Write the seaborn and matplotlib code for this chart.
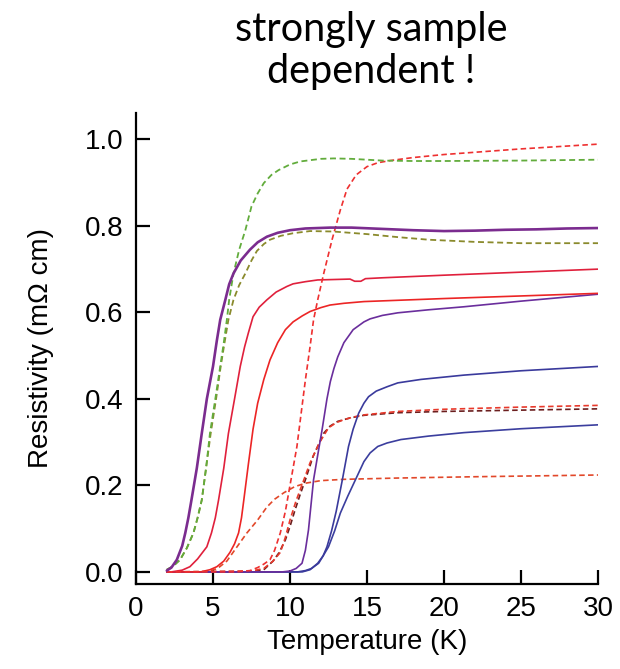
import matplotlib
matplotlib.use("Agg")
import matplotlib.pyplot as plt
import seaborn as sns
import pandas as pd

# ---------------- data ----------------
# Purple solid (noisy) curve
p1_T = [2.0, 2.3, 2.65, 3.0, 3.2, 3.4, 3.6, 3.95, 4.27, 4.6, 5.0, 5.25, 5.47, 5.8, 6.05, 6.33, 6.8, 7.4, 7.9, 8.5, 9.2, 10.0, 11.0, 12.6, 14.0, 16.0, 18.0, 20.0, 22.0, 24.0, 26.0, 28.0, 30.0]
p1_R = [0.003, 0.01, 0.028, 0.06, 0.09, 0.125, 0.166, 0.24, 0.32, 0.40, 0.475, 0.535, 0.583, 0.629, 0.665, 0.69, 0.72, 0.745, 0.762, 0.775, 0.784, 0.79, 0.794, 0.796, 0.796, 0.793, 0.790, 0.788, 0.789, 0.791, 0.792, 0.794, 0.795]
# Light green dashed
g_T = [2.0, 2.4, 2.86, 3.3, 3.73, 4.0, 4.27, 4.55, 4.8, 5.15, 5.47, 5.7, 5.9, 6.05, 6.33, 6.7, 7.1, 7.5, 7.9, 8.3, 8.8, 9.26, 10.0, 10.67, 12.0, 12.84, 14.0, 16.0, 18.0, 20.0, 25.0, 30.0]
g_R = [0.005, 0.013, 0.028, 0.055, 0.09, 0.125, 0.166, 0.24, 0.32, 0.40, 0.475, 0.53, 0.583, 0.629, 0.69, 0.745, 0.79, 0.845, 0.875, 0.899, 0.918, 0.929, 0.942, 0.949, 0.955, 0.956, 0.955, 0.951, 0.950, 0.950, 0.951, 0.953]
# Olive dashed
o_T = [2.0, 2.4, 2.86, 3.3, 3.73, 4.0, 4.27, 4.55, 4.85, 5.2, 5.5, 5.75, 6.0, 6.33, 6.7, 7.1, 7.5, 7.85, 8.3, 8.7, 9.4, 10.2, 11.3, 12.8, 15.0, 17.0, 19.0, 22.0, 25.0, 30.0]
o_R = [0.005, 0.013, 0.028, 0.055, 0.09, 0.125, 0.166, 0.24, 0.32, 0.40, 0.475, 0.53, 0.583, 0.629, 0.663, 0.69, 0.72, 0.742, 0.758, 0.768, 0.777, 0.783, 0.788, 0.787, 0.781, 0.774, 0.768, 0.763, 0.760, 0.760]
# Tall red dashed
rd1_T = [2.0, 6.5, 7.4, 7.9, 8.3, 8.7, 9.0, 9.37, 9.7, 10.0, 10.45, 10.7, 11.0, 11.3, 11.53, 11.8, 12.19, 12.73, 13.27, 13.7, 14.3, 15.0, 15.7, 16.5, 18.0, 20.0, 25.0, 30.0]
rd1_R = [0.0, 0.0, 0.003, 0.01, 0.018, 0.028, 0.05, 0.09, 0.14, 0.2, 0.29, 0.36, 0.444, 0.52, 0.583, 0.629, 0.69, 0.768, 0.837, 0.885, 0.918, 0.937, 0.946, 0.951, 0.958, 0.965, 0.978, 0.989]
# Red solid 1
rs1_T = [2.3, 3.0, 3.5, 4.0, 4.6, 4.9, 5.15, 5.36, 5.7, 6.0, 6.4, 6.77, 7.05, 7.3, 7.6, 8.0, 8.5, 9.1, 9.8, 10.2, 11.0, 11.8, 13.9, 14.2, 14.6, 14.9, 16.0, 20.0, 25.0, 30.0]
rs1_R = [0.0, 0.004, 0.012, 0.03, 0.058, 0.09, 0.125, 0.166, 0.24, 0.32, 0.40, 0.475, 0.52, 0.553, 0.59, 0.612, 0.629, 0.647, 0.66, 0.666, 0.671, 0.675, 0.677, 0.672, 0.672, 0.678, 0.680, 0.686, 0.693, 0.700]
# Red solid 2
rs2_T = [2.0, 4.2, 4.8, 5.25, 5.7, 6.1, 6.4, 6.66, 6.85, 7.0, 7.3, 7.6, 7.9, 8.3, 8.7, 9.2, 9.7, 10.2, 10.8, 11.3, 12.0, 12.6, 13.5, 14.8, 20.0, 25.0, 30.0]
rs2_R = [0.0, 0.0, 0.005, 0.012, 0.025, 0.045, 0.065, 0.09, 0.125, 0.166, 0.25, 0.33, 0.39, 0.445, 0.49, 0.53, 0.56, 0.578, 0.592, 0.602, 0.611, 0.617, 0.621, 0.625, 0.632, 0.638, 0.644]
# Purple solid 2
p2_T = [2.0, 9.5, 10.0, 10.4, 10.78, 11.0, 11.2, 11.35, 11.53, 11.8, 12.08, 12.4, 12.62, 12.85, 13.1, 13.5, 14.1, 14.8, 15.2, 16.0, 17.0, 19.0, 21.3, 25.0, 30.0]
p2_R = [0.0, 0.0, 0.002, 0.008, 0.02, 0.05, 0.097, 0.15, 0.213, 0.27, 0.328, 0.40, 0.44, 0.47, 0.497, 0.53, 0.56, 0.578, 0.585, 0.593, 0.599, 0.606, 0.613, 0.626, 0.642]
# Blue solid 1
b1_T = [2.0, 10.5, 11.0, 11.4, 11.86, 12.15, 12.4, 12.7, 13.0, 13.4, 13.8, 14.1, 14.46, 14.8, 15.1, 15.6, 16.3, 17.0, 18.5, 21.3, 25.0, 30.0]
b1_R = [0.0, 0.0, 0.003, 0.008, 0.02, 0.037, 0.058, 0.095, 0.14, 0.213, 0.29, 0.33, 0.367, 0.39, 0.405, 0.418, 0.428, 0.437, 0.445, 0.455, 0.465, 0.475]
# Blue solid 2
b2_T = [2.0, 10.8, 11.3, 11.8, 12.15, 12.5, 12.9, 13.27, 13.75, 14.25, 14.8, 15.2, 15.7, 16.3, 17.2, 19.0, 21.3, 25.0, 30.0]
b2_R = [0.0, 0.0, 0.005, 0.02, 0.037, 0.058, 0.095, 0.136, 0.175, 0.213, 0.255, 0.275, 0.29, 0.298, 0.306, 0.314, 0.322, 0.331, 0.340]
# Red dashed (plateau ~0.385)
rd2_T = [2.0, 7.5, 8.3, 8.9, 9.37, 9.7, 10.0, 10.4, 10.8, 11.3, 11.9, 12.5, 13.0, 13.5, 14.1, 14.8, 17.0, 20.0, 25.0, 30.0]
rd2_R = [0.0, 0.002, 0.008, 0.025, 0.045, 0.08, 0.12, 0.165, 0.203, 0.252, 0.298, 0.333, 0.345, 0.352, 0.358, 0.363, 0.371, 0.376, 0.381, 0.385]
# Dark brown dashed (plateau ~0.377)
bd_T = [2.0, 7.6, 8.3, 8.9, 9.3, 9.7, 10.0, 10.3, 10.65, 11.0, 11.5, 12.2, 12.6, 13.1, 13.9, 14.8, 17.0, 20.0, 25.0, 30.0]
bd_R = [0.0, 0.001, 0.005, 0.025, 0.045, 0.074, 0.105, 0.14, 0.178, 0.213, 0.267, 0.321, 0.337, 0.348, 0.356, 0.362, 0.368, 0.371, 0.374, 0.377]
# Orange-red dashed (low plateau ~0.22)
rd3_T = [2.0, 4.6, 5.3, 5.9, 6.5, 7.2, 7.9, 8.5, 9.0, 9.6, 10.3, 11.0, 12.0, 13.5, 17.0, 22.0, 30.0]
rd3_R = [0.0, 0.0, 0.008, 0.025, 0.055, 0.09, 0.12, 0.15, 0.168, 0.183, 0.197, 0.205, 0.211, 0.214, 0.217, 0.220, 0.224]

x_ticks = [0, 5, 10, 15, 20, 25, 30]
y_ticks = [0.0, 0.2, 0.4, 0.6, 0.8, 1.0]
y_tick_labels = ["0.0", "0.2", "0.4", "0.6", "0.8", "1.0"]

# ---------------- figure ----------------
sns.set_style("ticks")
plt.rcParams["font.family"] = ["Liberation Sans", "DejaVu Sans"]
plt.rcParams["text.color"] = "black"
plt.rcParams["axes.labelcolor"] = "black"

fig = plt.figure(figsize=(6.2, 6.69), dpi=100)
ax = fig.add_axes([136 / 620, 1 - 584 / 669, (598 - 136) / 620, (584 - 113) / 669])

DASH = (0, (3.3, 2.0))
curves = [
    (rd3_T, rd3_R, "#E2482A", DASH, 1.2),
    (bd_T, bd_R, "#6B1E1E", DASH, 1.2),
    (rd2_T, rd2_R, "#E8392B", DASH, 1.2),
    (b2_T, b2_R, "#3B3E9E", "-", 1.2),
    (b1_T, b1_R, "#3A3A9C", "-", 1.2),
    (p2_T, p2_R, "#6A2E9C", "-", 1.2),
    (rs2_T, rs2_R, "#EC2525", "-", 1.2),
    (rs1_T, rs1_R, "#E0203C", "-", 1.2),
    (rd1_T, rd1_R, "#EE3030", DASH, 1.2),
    (o_T, o_R, "#8A8A2C", DASH, 1.3),
    (g_T, g_R, "#62AC3C", DASH, 1.3),
    (p1_T, p1_R, "#7B2C8F", "-", 1.9),
]
for T, R, col, ls, lw in curves:
    df = pd.DataFrame({"T": T, "R": R})
    sns.lineplot(data=df, x="T", y="R", ax=ax, color=col, linestyle=ls,
                 linewidth=lw, sort=False, estimator=None)

ax.set_xlim(0, 30)
ax.set_ylim(-0.028, 1.061)
ax.set_xticks(x_ticks)
ax.set_yticks(y_ticks)
ax.set_yticklabels(y_tick_labels)
sns.despine(ax=ax)
for s in ("left", "bottom"):
    ax.spines[s].set_linewidth(1.6)
    ax.spines[s].set_color("black")
ax.tick_params(direction="in", length=10, width=1.6, labelsize=20, pad=9,
               colors="black", labelcolor="black")

ax.set_xlabel("Temperature (K)", fontsize=20, labelpad=5)
ax.set_ylabel("Resistivity (m\u03a9 cm)", fontsize=20, labelpad=22)

fig.text(0.598, 1 - 30 / 669, "strongly sample", ha="center", va="center",
         fontsize=28.5, family=["Lato", "DejaVu Sans"], color="black")
fig.text(0.598, 1 - 72 / 669, "dependent !", ha="center", va="center",
         fontsize=28.5, family=["Lato", "DejaVu Sans"], color="black")

fig.savefig("out.png", dpi=100)
